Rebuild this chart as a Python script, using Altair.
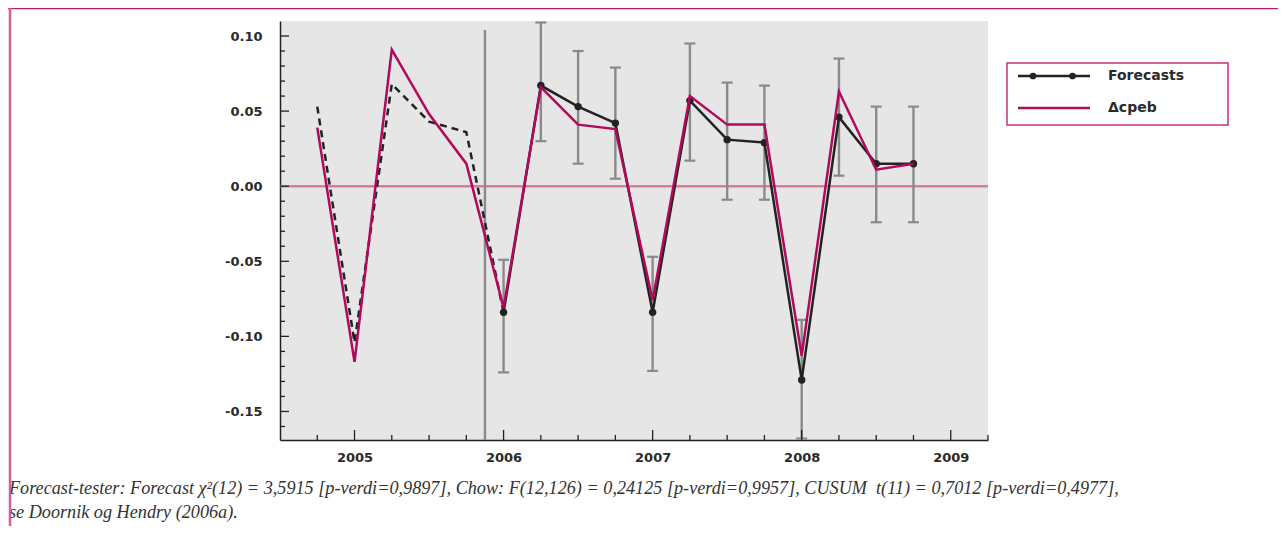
import altair as alt
import pandas as pd

# ---------------- data ----------------
quarters = [2004.75, 2005.0, 2005.25, 2005.5, 2005.75, 2006.0, 2006.25, 2006.5,
            2006.75, 2007.0, 2007.25, 2007.5, 2007.75, 2008.0, 2008.25, 2008.5, 2008.75]
actual = [0.039, -0.117, 0.091, 0.048, 0.015, -0.081, 0.066, 0.041,
          0.038, -0.076, 0.060, 0.041, 0.041, -0.113, 0.063, 0.011, 0.015]

fitted_t = [2004.75, 2005.0, 2005.25, 2005.5, 2005.75, 2006.0]
fitted = [0.053, -0.104, 0.068, 0.043, 0.036, -0.084]

fc_t = [2006.0, 2006.25, 2006.5, 2006.75, 2007.0, 2007.25, 2007.5, 2007.75,
        2008.0, 2008.25, 2008.5, 2008.75]
forecast = [-0.084, 0.067, 0.053, 0.042, -0.084, 0.057, 0.031, 0.029,
            -0.129, 0.046, 0.015, 0.015]
err_lo = [-0.124, 0.030, 0.015, 0.005, -0.123, 0.017, -0.009, -0.009,
          -0.168, 0.007, -0.024, -0.024]
err_hi = [-0.049, 0.109, 0.090, 0.079, -0.047, 0.095, 0.069, 0.067,
          -0.089, 0.085, 0.053, 0.053]

break_t = [2005.875]
break_top = [0.104]
break_bottom = [-0.169]

y_major = [-0.15, -0.10, -0.05, 0.0, 0.05, 0.10]
y_minor = [-0.16, -0.14, -0.13, -0.12, -0.11, -0.09, -0.08, -0.07, -0.06,
           -0.04, -0.03, -0.02, -0.01, 0.01, 0.02, 0.03, 0.04, 0.06, 0.07, 0.08, 0.09]
x_major = [2005, 2006, 2007, 2008, 2009]
x_minor = [2004.75, 2005.25, 2005.5, 2005.75, 2006.25, 2006.5, 2006.75,
           2007.25, 2007.5, 2007.75, 2008.25, 2008.5, 2008.75, 2009.25]

legend_labels = ["Forecasts", "\u0394cpeb"]
note_lines = [
    "Forecast-tester: Forecast \u03c7\u00b2(12) = 3,5915 [p-verdi=0,9897], Chow: F(12,126) = 0,24125 [p-verdi=0,9957], CUSUM\u00a0 t(11) = 0,7012 [p-verdi=0,4977],",
    "se Doornik og Hendry (2006a).",
]

# ---------------- styling ----------------
W, H = 708, 419
MAGENTA = "#b10a5c"
BLACK = "#222222"
GREY = "#8a8a8a"
PINK = "#c8307a"

xs = alt.Scale(domain=[2004.5, 2009.25], nice=False, zero=False)
ys = alt.Scale(domain=[-0.169, 0.110], nice=False, zero=False)

xaxis = alt.Axis(title="", values=x_major, format="d", grid=False, ticks=False,
                 domainColor=BLACK, domainWidth=1.5, labelFont="DejaVu Sans",
                 labelFontWeight="bold", labelFontSize=13, labelColor="#2a2a2a",
                 labelPadding=11)
yaxis = alt.Axis(title="", values=y_major, grid=False, ticks=False,
                 labelExpr="replace(format(datum.value, '.2f'), '\u2212', '-')",
                 domainColor=BLACK, domainWidth=1.5, labelFont="DejaVu Sans",
                 labelFontWeight="bold", labelFontSize=13, labelColor="#2a2a2a",
                 labelPadding=18)

X = alt.X("t:Q", scale=xs, axis=xaxis)
Y = alt.Y("v:Q", scale=ys, axis=yaxis)

df_act = pd.DataFrame({"t": quarters, "v": actual})
df_fit = pd.DataFrame({"t": fitted_t, "v": fitted})
df_fc = pd.DataFrame({"t": fc_t, "v": forecast, "lo": err_lo, "hi": err_hi})
df_err = pd.DataFrame({"t": fc_t * 2, "v": err_lo + err_hi})
df_brk = pd.DataFrame({"t": break_t, "v": break_top, "v2": break_bottom})
df_zero = pd.DataFrame({"v": [0.0]})
df_ymaj = pd.DataFrame({"v": y_major})
df_ymin = pd.DataFrame({"v": y_minor})
df_xmaj = pd.DataFrame({"t": x_major})
df_xmin = pd.DataFrame({"t": x_minor})

# axis ticks pointing inward
ytick_major = alt.Chart(df_ymaj).mark_rule(color=BLACK, strokeWidth=1.3).encode(
    y=Y, x=alt.value(0), x2=alt.value(9))
ytick_minor = alt.Chart(df_ymin).mark_rule(color=BLACK, strokeWidth=1.3).encode(
    y=Y, x=alt.value(0), x2=alt.value(5))
xtick_major = alt.Chart(df_xmaj).mark_rule(color=BLACK, strokeWidth=1.3).encode(
    x=X, y=alt.value(H), y2=alt.value(H - 10))
xtick_minor = alt.Chart(df_xmin).mark_rule(color=BLACK, strokeWidth=1.3).encode(
    x=X, y=alt.value(H), y2=alt.value(H - 5))

zero = alt.Chart(df_zero).mark_rule(color="#d77c9f", strokeWidth=2.6).encode(
    y=Y, x=alt.value(0), x2=alt.value(W))
brk = alt.Chart(df_brk).mark_rule(color=GREY, strokeWidth=2.4).encode(
    x=X, y=Y, y2="v2:Q")

ebar = alt.Chart(df_fc).mark_rule(color=GREY, strokeWidth=2.4).encode(
    x=X, y=alt.Y("lo:Q", scale=ys, axis=yaxis), y2="hi:Q")
ecap = alt.Chart(df_err).mark_tick(color=GREY, thickness=2.2, size=11,
                                    orient="horizontal", opacity=1).encode(x=X, y=Y)

fit_line = alt.Chart(df_fit).mark_line(color=BLACK, strokeWidth=2.5,
                                       strokeDash=[7, 5]).encode(x=X, y=Y)
fc_line = alt.Chart(df_fc).mark_line(color=BLACK, strokeWidth=2.5).encode(x=X, y=Y)
fc_pts = alt.Chart(df_fc).mark_point(filled=True, color=BLACK, size=55,
                                     opacity=1).encode(x=X, y=Y)
act_line = alt.Chart(df_act).mark_line(color=MAGENTA, strokeWidth=2.5).encode(x=X, y=Y)

# legend drawn by hand
df_l1 = pd.DataFrame({"label": [legend_labels[0]]})
df_l2 = pd.DataFrame({"label": [legend_labels[1]]})
leg_box = alt.Chart(df_l1).mark_rect(fill="white", stroke=PINK, strokeWidth=1.5).encode(
    x=alt.value(727), x2=alt.value(948), y=alt.value(42), y2=alt.value(104))
leg_l1 = alt.Chart(df_l1).mark_rule(color=BLACK, strokeWidth=2.5).encode(
    x=alt.value(738), x2=alt.value(810), y=alt.value(55))
leg_p1 = alt.Chart(df_l1).mark_point(filled=True, color=BLACK, size=45, opacity=1).encode(
    x=alt.value(753), y=alt.value(55))
leg_p2 = alt.Chart(df_l1).mark_point(filled=True, color=BLACK, size=45, opacity=1).encode(
    x=alt.value(792.5), y=alt.value(55))
leg_t1 = alt.Chart(df_l1).mark_text(align="left", baseline="middle", font="DejaVu Sans",
                                    fontSize=14, fontWeight="bold", color="#2a2a2a").encode(
    text="label:N", x=alt.value(828), y=alt.value(55))
leg_l2 = alt.Chart(df_l2).mark_rule(color=MAGENTA, strokeWidth=2.5).encode(
    x=alt.value(738), x2=alt.value(810), y=alt.value(87))
leg_t2 = alt.Chart(df_l2).mark_text(align="left", baseline="middle", font="DejaVu Sans",
                                    fontSize=14, fontWeight="bold", color="#2a2a2a").encode(
    text="label:N", x=alt.value(828), y=alt.value(87))

# footnote
df_n1 = pd.DataFrame({"label": [note_lines[0]]})
df_n2 = pd.DataFrame({"label": [note_lines[1]]})
note1 = alt.Chart(df_n1).mark_text(align="left", baseline="middle", font="Liberation Serif",
                                   fontStyle="italic", fontSize=18.2, color="#333333").encode(
    text="label:N", x=alt.value(-271), y=alt.value(468))
note2 = alt.Chart(df_n2).mark_text(align="left", baseline="middle", font="Liberation Serif",
                                   fontStyle="italic", fontSize=18.2, color="#333333").encode(
    text="label:N", x=alt.value(-271), y=alt.value(492))

# outer frame
frame_top = alt.Chart(df_l1).mark_rule(color="#c0186a", strokeWidth=1.5).encode(
    x=alt.value(-272), x2=alt.value(998), y=alt.value(-12.5))
frame_left = alt.Chart(df_l1).mark_rule(color="#d75c97", strokeWidth=2.5).encode(
    x=alt.value(-270), y=alt.value(-13), y2=alt.value(505))

chart = alt.layer(
    zero, brk, ebar, ecap, fit_line, fc_line, fc_pts, act_line,
    ytick_major, ytick_minor, xtick_major, xtick_minor,
    leg_box, leg_l1, leg_p1, leg_p2, leg_t1, leg_l2, leg_t2,
    note1, note2, frame_top, frame_left,
).properties(
    width=W, height=H,
    padding={"left": 272, "top": 13, "right": 290, "bottom": 86},
    autosize=alt.AutoSizeParams(type="none"),
).configure_view(fill="#e6e6e6", strokeWidth=0)

chart.save("out.html", embed_options={"renderer": "svg", "actions": False})
